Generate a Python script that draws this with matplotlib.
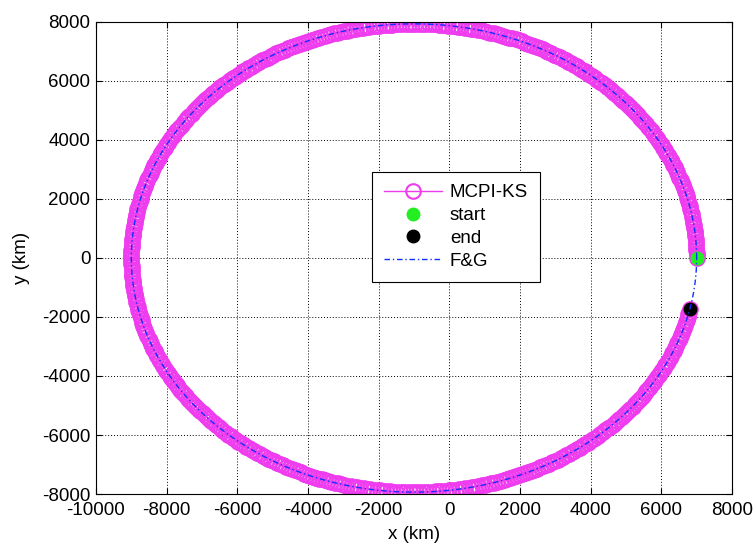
import numpy as np
import matplotlib
matplotlib.use("Agg")
import matplotlib.pyplot as plt

plt.rcParams['font.family'] = ['Liberation Sans', 'DejaVu Sans']
plt.rcParams['axes.unicode_minus'] = False

# orbit (km)
r_peri = 7000.0          # start point, on the +x axis
r_apo = 9000.0           # leftmost point of the orbit
start_xy = (7000.0, 0.0)
end_xy = (6810.0, -1730.0)
n_mcpi = 520
n_fg = 800

x_ticks = [-10000, -8000, -6000, -4000, -2000, 0, 2000, 4000, 6000, 8000]
y_ticks = [-8000, -6000, -4000, -2000, 0, 2000, 4000, 6000, 8000]

# ellipse geometry from periapsis / apoapsis
a = (r_peri + r_apo) / 2
e = (r_apo - r_peri) / (r_apo + r_peri)
b = a * np.sqrt(1 - e**2)

E_end = 2*np.pi + np.arctan2(end_xy[1] / b, end_xy[0] / a + e)
E_mcpi = np.linspace(0, E_end, n_mcpi)
x_mcpi = a * (np.cos(E_mcpi) - e)
y_mcpi = b * np.sin(E_mcpi)

E_fg = np.linspace(0, 2*np.pi, n_fg)
x_fg = a * (np.cos(E_fg) - e)
y_fg = b * np.sin(E_fg)

FS = 13.5
fig = plt.figure(figsize=(7.54, 5.44), dpi=100)
ax = fig.add_axes([0.1273, 0.0919, 0.8435, 0.8677])

mag = '#ee3cee'
ax.plot(x_mcpi, y_mcpi, '-', color=mag, marker='o', mfc='none',
        mec=mag, ms=10.5, mew=1.5, lw=1.0, label='MCPI-KS')
ax.plot(*start_xy, 'o', color='#22ee22', mec='#22ee22', ms=9, label='start', ls='none')
ax.plot(*end_xy, 'o', color='k', ms=9, label='end', ls='none')
ax.plot(x_fg, y_fg, color='#1030ff', lw=1.0, dashes=(4, 2, 1, 2), label='F&G')

ax.set_xlim(-10000, 8000)
ax.set_ylim(-8000, 8000)
ax.set_xticks(x_ticks)
ax.set_yticks(y_ticks)
ax.tick_params(direction='in', top=True, right=True, labelsize=FS, length=4, pad=4)
ax.tick_params(axis='x', pad=6)
ax.grid(True, color='k', linestyle=(0, (1, 2)), linewidth=0.7)
for s in ax.spines.values():
    s.set_linewidth(0.8)

ax.set_xlabel('x (km)', fontsize=FS, labelpad=5)
ax.set_ylabel('y (km)', fontsize=FS, labelpad=9)

leg = ax.legend(loc='upper left', bbox_to_anchor=(0.434, 0.682), borderaxespad=0,
                fontsize=FS, fancybox=False, framealpha=1, edgecolor='k',
                handlelength=3.1, borderpad=0.65, labelspacing=0.3, handletextpad=0.4)
leg.get_frame().set_linewidth(0.8)

fig.savefig('out.png', dpi=100)
